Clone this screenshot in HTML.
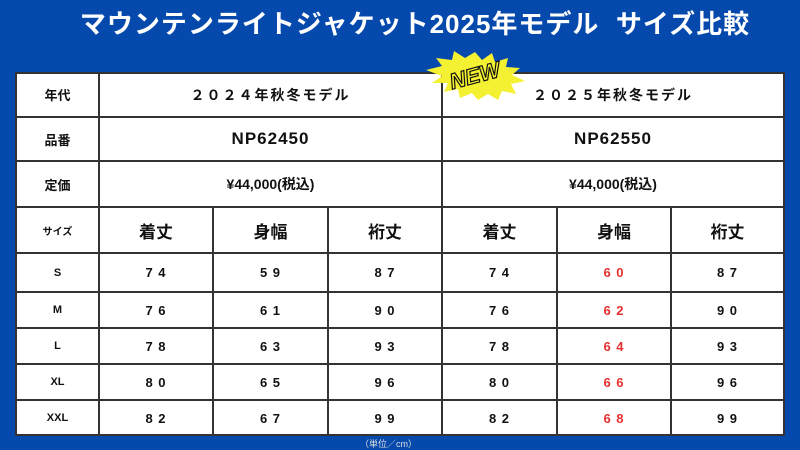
<!DOCTYPE html>
<html><head><meta charset="utf-8"><style>
body{margin:0;width:800px;height:450px;background:#0549ad;position:relative;overflow:hidden;font-family:"Liberation Sans","Noto Sans CJK JP",sans-serif}
.t{position:absolute;left:0;width:800px;top:7px;text-align:center;padding-left:30px;box-sizing:border-box;color:#fff;font-weight:bold;font-size:26px;letter-spacing:1px;line-height:34px;white-space:nowrap}
.tb{position:absolute;left:16px;top:72px;width:768px;height:364px;background:#fff;border:1px solid #222;box-sizing:border-box}
.c{position:absolute;display:flex;align-items:center;justify-content:center;color:#111;box-sizing:border-box;font-weight:bold}
.h{position:absolute;background:#333;height:2px}
.v{position:absolute;background:#333;width:2px}
.r{color:#e53030}
.u{position:absolute;left:360px;top:437px;font-size:9px;color:#ddd}
</style></head><body>
<div class="t">マウンテンライトジャケット2025年モデル&nbsp;&nbsp;サイズ比較</div>
<div class="tb"></div>
<div class="h" style="left:16px;top:116px;width:768px"></div>
<div class="h" style="left:16px;top:160px;width:768px"></div>
<div class="h" style="left:16px;top:206px;width:768px"></div>
<div class="h" style="left:16px;top:252px;width:768px"></div>
<div class="h" style="left:16px;top:291px;width:768px"></div>
<div class="h" style="left:16px;top:327px;width:768px"></div>
<div class="h" style="left:16px;top:363px;width:768px"></div>
<div class="h" style="left:16px;top:399px;width:768px"></div>
<div class="h" style="left:16px;top:72px;width:768px"></div>
<div class="h" style="left:16px;top:434px;width:768px"></div>
<div class="v" style="left:15px;top:72px;height:364px"></div>
<div class="v" style="left:783px;top:72px;height:364px"></div>
<div class="v" style="left:98px;top:72px;height:364px"></div>
<div class="v" style="left:441px;top:72px;height:364px"></div>
<div class="v" style="left:212px;top:206px;height:230px"></div>
<div class="v" style="left:327px;top:206px;height:230px"></div>
<div class="v" style="left:556px;top:206px;height:230px"></div>
<div class="v" style="left:670px;top:206px;height:230px"></div>

<div class="c" style="left:16px;top:72px;width:83px;height:45px;font-size:13px">年代</div>
<div class="c" style="left:99px;top:72px;width:343px;height:45px;font-size:14px;letter-spacing:2px">２０２４年秋冬モデル</div>
<div class="c" style="left:442px;top:72px;width:342px;height:45px;font-size:14px;letter-spacing:2px">２０２５年秋冬モデル</div>
<div class="c" style="left:16px;top:117px;width:83px;height:44px;font-size:13px">品番</div>
<div class="c" style="left:99px;top:117px;width:343px;height:44px;font-size:17px;letter-spacing:1px">NP62450</div>
<div class="c" style="left:442px;top:117px;width:342px;height:44px;font-size:17px;letter-spacing:1px">NP62550</div>
<div class="c" style="left:16px;top:161px;width:83px;height:46px;font-size:13px">定価</div>
<div class="c" style="left:99px;top:161px;width:343px;height:46px;font-size:14px">¥44,000(税込)</div>
<div class="c" style="left:442px;top:161px;width:342px;height:46px;font-size:14px">¥44,000(税込)</div>

<div class="c" style="left:16px;top:207px;width:83px;height:46px;font-size:10px">サイズ</div>
<div class="c" style="left:99px;top:207px;width:114px;height:46px;font-size:17px">着丈</div>
<div class="c" style="left:213px;top:207px;width:115px;height:46px;font-size:17px">身幅</div>
<div class="c" style="left:328px;top:207px;width:114px;height:46px;font-size:17px">裄丈</div>
<div class="c" style="left:442px;top:207px;width:115px;height:46px;font-size:17px">着丈</div>
<div class="c" style="left:557px;top:207px;width:114px;height:46px;font-size:17px">身幅</div>
<div class="c" style="left:671px;top:207px;width:113px;height:46px;font-size:17px">裄丈</div>

<div id="rows"></div>
<script>
var rows=[["S","74","59","87","60",253,39],["M","76","61","90","62",292,36],["L","78","63","93","64",328,36],["XL","80","65","96","66",364,36],["XXL","82","67","99","68",400,36]];
var xs=[[16,83],[99,114],[213,115],[328,114],[442,115],[557,114],[671,113]];
var h="";
rows.forEach(function(r){
 var vals=[r[0],r[1],r[2],r[3],r[1],r[4],r[3]];
 vals.forEach(function(v,i){
  var sp=i==0?v:v.split("").join(" ");
  var st="left:"+xs[i][0]+"px;top:"+r[5]+"px;width:"+xs[i][1]+"px;height:"+r[6]+"px;font-size:"+(i==0?"11px":"13px;letter-spacing:1px");
  h+='<div class="c'+(i==5?' r':'')+'" style="'+st+'">'+sp+'</div>';
 });
});
document.getElementById("rows").innerHTML=h;
</script>

<svg style="position:absolute;left:420px;top:50px" width="110" height="50" viewBox="0 0 110 50">
<polygon fill="#f4f032" points="55,2 62,10 72,3 75,12 88,8 86,17 100,18 92,25 105,31 91,34 96,44 82,41 78,50 68,44 58,50 52,43 40,48 38,39 24,42 28,33 12,33 22,26 6,20 22,16 16,8 32,10 34,1 45,8"/>
<text x="55" y="33" text-anchor="middle" transform="rotate(-15 55 26)" font-family="Liberation Sans" font-style="italic" font-weight="bold" font-size="22" fill="#f4f032" stroke="#111" stroke-width="1.2">NEW</text>
</svg>
<div class="u">（単位／cm）</div>
</body></html>
